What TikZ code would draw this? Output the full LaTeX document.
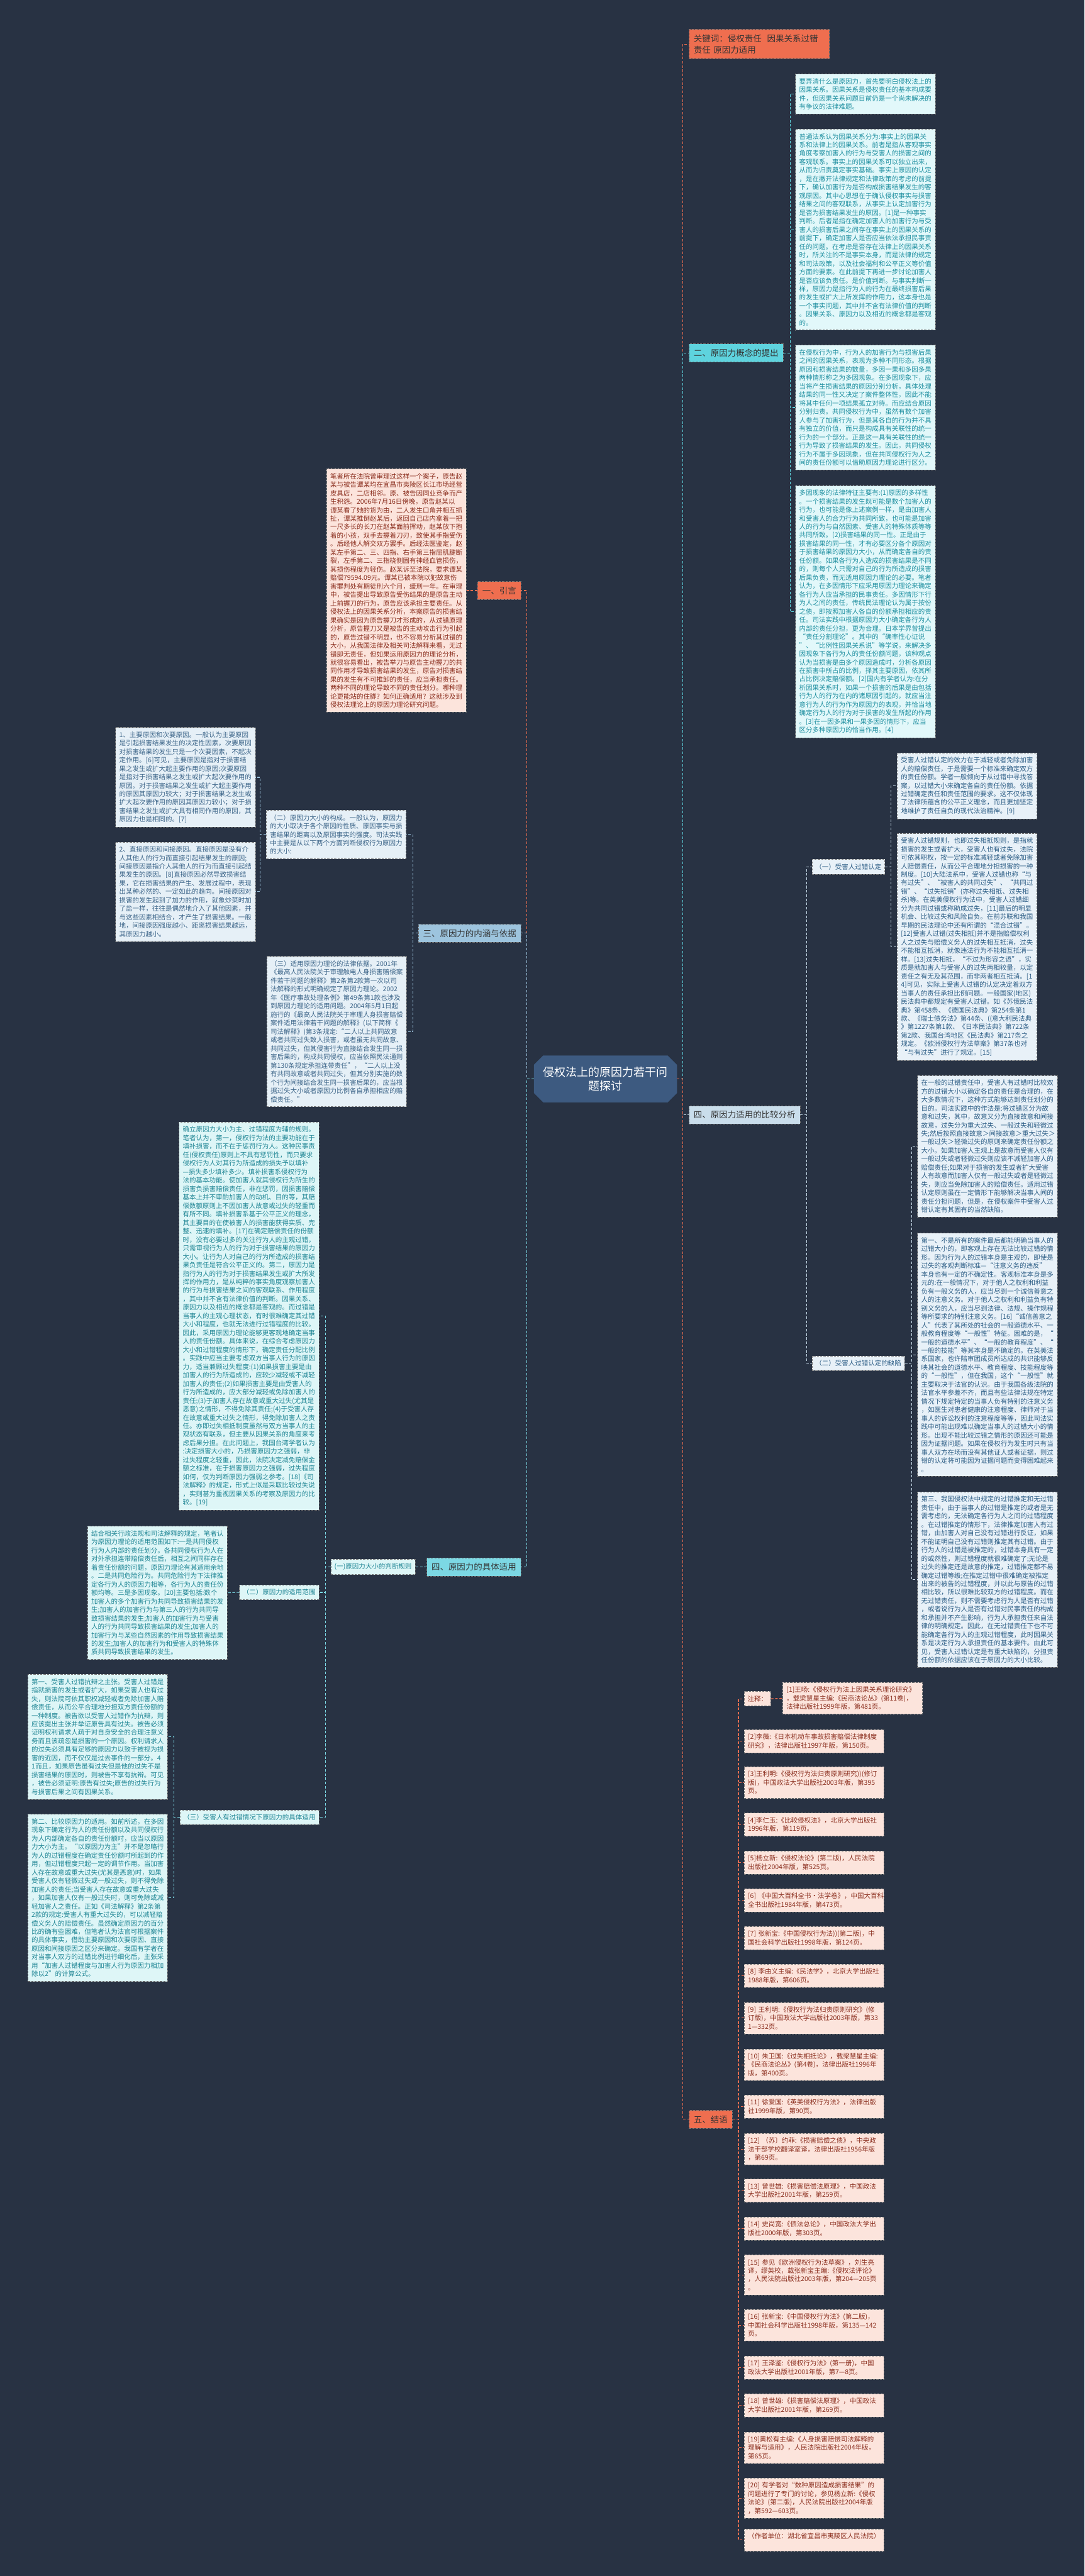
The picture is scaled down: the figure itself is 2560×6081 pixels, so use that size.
\documentclass[tikz,border=0pt]{standalone}
\usepackage{fontspec}
\setmainfont{Noto Sans CJK SC}
\usetikzlibrary{shapes.misc}

\definecolor{bgnavy}{HTML}{283243}
\definecolor{corange}{HTML}{EF6E4F}
\definecolor{cteal}{HTML}{5ED3DE}
\definecolor{csteel}{HTML}{9DC4DE}
\definecolor{cpale}{HTML}{C9DDEB}
\definecolor{ccyan}{HTML}{7CD8E4}
\definecolor{croot}{HTML}{3D5A80}

\begin{document}
\begin{tikzpicture}[x=1pt,y=-1pt]
	\tikzstyle{myline}=[line width=1.6pt,dash pattern=on 6pt off 4pt]
	\tikzstyle{mymain}=[font=\fontsize{20}{27}\selectfont,inner xsep=11pt,inner ysep=12pt,draw=black!55,dash pattern=on 5pt off 3pt,line width=0.9pt]
	\tikzstyle{mysub}=[font=\fontsize{15.6}{20}\selectfont,inner xsep=8pt,inner ysep=10pt,draw=black!55,dash pattern=on 5pt off 3pt,line width=0.9pt]
	\tikzstyle{mybox}=[font=\fontsize{15.6}{20}\selectfont,text width=312pt,align=left,inner xsep=9pt,inner ysep=10pt,draw=black!55,dash pattern=on 5pt off 3pt,line width=0.9pt]
	\tikzstyle{myred}=[fill={rgb,255:red,252;green,228;blue,220},text={rgb,255:red,139;green,46;blue,30}]
	\tikzstyle{myteal}=[fill={rgb,255:red,226;green,248;blue,250},text={rgb,255:red,30;green,143;blue,160}]
	\tikzstyle{mypale}=[fill={rgb,255:red,232;green,241;blue,248},text={rgb,255:red,45;green,94;blue,134}]
	\tikzstyle{mysteel}=[fill={rgb,255:red,230;green,240;blue,247},text={rgb,255:red,59;green,100;blue,136}]
	\tikzstyle{mycyan}=[fill={rgb,255:red,222;green,246;blue,247},text={rgb,255:red,30;green,133;blue,148}]

	\fill[bgnavy] (0,0) rectangle (2560,6081);
	\useasboundingbox (0,0) rectangle (2560,6081);

	% root and main branches
	\node[chamfered rectangle,chamfered rectangle xsep=10pt,chamfered rectangle ysep=12pt,fill=croot,text=white,font=\fontsize{26.7}{34}\selectfont,align=center,inner xsep=12pt,inner ysep=14pt] (root) at (1429,2547) {侵权法上的原因力若干问\\题探讨};

	\node[mymain,fill=corange,text=black!80,text width=309pt,align=left,anchor=west] (kw) at (1626,104) {关键词：侵权责任\ \ 因果关系过错\\责任 原因力适用};
	\node[mymain,fill=cteal,text=black!80,anchor=west] (sec2) at (1626,833) {二、原因力概念的提出};
	\node[mymain,fill=cpale,text=black!80,anchor=west] (sec4r) at (1626,2632) {四、原因力适用的比较分析};
	\node[mymain,fill=corange,text=black!80,anchor=west] (sec5) at (1626,5003) {五、结语};

	\node[mymain,fill=corange,text=black!80,anchor=east] (sec1) at (1230,1394) {一、引言};
	\node[mymain,fill=csteel,text=black!80,anchor=east] (sec3) at (1230,2203) {三、原因力的内涵与依据};
	\node[mymain,fill=ccyan,text=black!80,anchor=east] (sec4l) at (1230,3699) {四、原因力的具体适用};

	\draw[myline,corange] (root.east) -- ++(13,0) |- (kw.west);
	\draw[myline,cteal] (root.east) -- ++(13,0) |- (sec2.west);
	\draw[myline,cpale] (root.east) -- ++(13,0) |- (sec4r.west);
	\draw[myline,corange] (root.east) -- ++(13,0) |- (sec5.west);
	\draw[myline,corange] (root.west) -- ++(-16,0) |- (sec1.east);
	\draw[myline,csteel] (root.west) -- ++(-16,0) |- (sec3.east);
	\draw[myline,ccyan] (root.west) -- ++(-16,0) |- (sec4l.east);

	% 二
	\node[mybox,myteal,anchor=west] (c2a) at (1877,222) {要弄清什么是原因力，首先要明白侵权法上的\\因果关系。因果关系是侵权责任的基本构成要\\件，但因果关系问题目前仍是一个尚未解决的\\有争议的法律难题。};
	\node[mybox,myteal,anchor=west] (c2b) at (1877,542) {普通法系认为因果关系分为:事实上的因果关\\系和法律上的因果关系。前者是指从客观事实\\角度考察加害人的行为与受害人的损害之间的\\客观联系。事实上的因果关系可以独立出来，\\从而为归责奠定事实基础。事实上原因的认定\\，是在撇开法律规定和法律政策的考虑的前提\\下，确认加害行为是否构成损害结果发生的客\\观原因。其中心思想在于确认侵权事实与损害\\结果之间的客观联系，从事实上认定加害行为\\是否为损害结果发生的原因。[1]是一种事实\\判断。后者是指在确定加害人的加害行为与受\\害人的损害后果之间存在事实上的因果关系的\\前提下，确定加害人是否应当依法承担民事责\\任的问题。在考虑是否存在法律上的因果关系\\时，所关注的不是事实本身，而是法律的规定\\和司法政策，以及社会福利和公平正义等价值\\方面的要素。在此前提下再进一步讨论加害人\\是否应该负责任。是价值判断。与事实判断一\\样，原因力是指行为人的行为在最终损害后果\\的发生或扩大上所发挥的作用力，这本身也是\\一个事实问题，其中并不含有法律价值的判断\\。因果关系、原因力以及相近的概念都是客观\\的。};
	\node[mybox,myteal,anchor=west] (c2c) at (1877,962) {在侵权行为中，行为人的加害行为与损害后果\\之间的因果关系，表现为多种不同形态。根据\\原因和损害结果的数量，多因一果和多因多果\\两种情形称之为多因现象。在多因现象下，应\\当将产生损害结果的原因分别分析，具体处理\\结果的同一性又决定了案件整体性，因此不能\\将其中任何一项结果孤立对待。而应结合原因\\分别归责。共同侵权行为中，虽然有数个加害\\人参与了加害行为，但是其各自的行为并不具\\有独立的价值，而只是构成具有关联性的统一\\行为的一个部分。正是这一具有关联性的统一\\行为导致了损害结果的发生。因此，共同侵权\\行为不属于多因现象，但在共同侵权行为人之\\间的责任份额可以借助原因力理论进行区分。};
	\node[mybox,myteal,anchor=west] (c2d) at (1877,1444) {多因现象的法律特征主要有:(1)原因的多样性\\。一个损害结果的发生既可能是数个加害人的\\行为，也可能是像上述案例一样，是由加害人\\和受害人的合力行为共同所致，也可能是加害\\人的行为与自然因素、受害人的特殊体质等等\\共同所致。(2)损害结果的同一性。正是由于\\损害结果的同一性，才有必要区分各个原因对\\于损害结果的原因力大小，从而确定各自的责\\任份额。如果各行为人造成的损害结果是不同\\的，则每个人只需对自己的行为所造成的损害\\后果负责，而无适用原因力理论的必要。笔者\\认为，在多因情形下应采用原因力理论来确定\\各行为人应当承担的民事责任。多因情形下行\\为人之间的责任，传统民法理论认为属于按份\\之债，即按照加害人各自的份额承担相应的责\\任。司法实践中根据原因力大小确定各行为人\\内部的责任分担，更为合理。日本学界曾提出\\“责任分割理论”。其中的“确率性心证说\\”、“比例性因果关系说”等学说，来解决多\\因现象下各行为人的责任份额问题，该种观点\\认为当损害是由多个原因造成时，分析各原因\\在损害中所占的比例，择其主要原因，依其所\\占比例决定赔偿额。[2]国内有学者认为:在分\\析因果关系时，如果一个损害的后果是由包括\\行为人的行为在内的诸原因引起的，就应当注\\意行为人的行为作为原因力的表现，并恰当地\\确定行为人的行为对于损害的发生所起的作用\\。[3]在一因多果和一果多因的情形下，应当\\区分多种原因力的恰当作用。[4]};
	\foreach \c in {c2a,c2b,c2c,c2d} {\draw[myline,cteal] (sec2.east) -- ++(16,0) |- (\c.west);}

	% 四 (right)
	\node[mysub,mypale,anchor=west] (r41) at (1916,2046) {（一）受害人过错认定};
	\node[mysub,mypale,anchor=west] (r42) at (1916,3218) {（二）受害人过错认定的缺陷};
	\foreach \c in {r41,r42} {\draw[myline,cpale] (sec4r.east) -- ++(15,0) |- (\c.west);}

	\node[mybox,mypale,anchor=west] (r41a) at (2117,1855) {受害人过错认定的效力在于减轻或者免除加害\\人的赔偿责任，于是需要一个标准来确定双方\\的责任份额。学者一般倾向于从过错中寻找答\\案，以过错大小来确定各自的责任份额。依据\\过错确定责任和责任范围的要求。这不仅体现\\了法律所蕴含的公平正义理念，而且更加坚定\\地维护了责任自负的现代法治精神。[9]};
	\node[mybox,mypale,anchor=west] (r41b) at (2117,2235) {受害人过错规则，也即过失相抵规则，是指就\\损害的发生或者扩大，受害人也有过失，法院\\可依其职权，按一定的标准减轻或者免除加害\\人赔偿责任，从而公平合理地分担损害的一种\\制度。[10]大陆法系中，受害人过错也称“与\\有过失”、“被害人的共同过失”、“共同过\\错”、“过失抵销”(亦称过失相抵、过失相\\杀)等。在英美侵权行为法中，受害人过错细\\分为共同过错或称助成过失，[11]最后的明显\\机会、比较过失和风险自负。在前苏联和我国\\早期的民法理论中还有所谓的“混合过错”。\\{}[12]受害人过错(过失相抵)并不是指赔偿权利\\人之过失与赔偿义务人的过失相互抵消，过失\\不能相互抵消，就像违法行为不能相互抵消一\\样。[13]过失相抵，“不过为形容之语”，实\\质是就加害人与受害人的过失两相较量，以定\\责任之有无及其范围，而非两者相互抵消。[1\\4]可见，实际上受害人过错的认定决定着双方\\当事人的责任承担比例问题。一般国家(地区)\\民法典中都规定有受害人过错。如《苏俄民法\\典》第458条、《德国民法典》第254条第1\\款、《瑞士债务法》第44条、((意大利民法典\\》第1227条第1款、《日本民法典》第722条\\第2款、我国台湾地区《民法典》第217条之\\规定。《欧洲侵权行为法草案》第37条也对\\“与有过失”进行了规定。[15]};
	\foreach \c in {r41a,r41b} {\draw[myline,cpale] (r41.east) -- ++(14,0) |- (\c.west);}

	\node[mybox,mypale,anchor=west] (r42a) at (2165,2706) {在一般的过错责任中，受害人有过错时比较双\\方的过错大小以确定各自的责任是合理的，在\\大多数情况下，这种方式能够达到责任划分的\\目的。司法实践中的作法是:将过错区分为故\\意和过失，其中，故意又分为直接故意和间接\\故意，过失分为重大过失、一般过失和轻微过\\失;然后按照直接故意＞间接故意＞重大过失＞\\一般过失＞轻微过失的原则来确定责任份额之\\大小。如果加害人主观上是故意而受害人仅有\\一般过失或者轻微过失则应该不减轻加害人的\\赔偿责任;如果对于损害的发生或者扩大受害\\人有故意而加害人仅有一般过失或者是轻微过\\失，则应当免除加害人的赔偿责任。适用过错\\认定原则虽在一定情形下能够解决当事人间的\\责任分担问题，但是，在侵权案件中受害人过\\错认定有其固有的当然缺陷。};
	\node[mybox,mypale,anchor=west] (r42b) at (2165,3198) {第一、不是所有的案件最后都能明确当事人的\\过错大小的，即客观上存在无法比较过错的情\\形。因为行为人的过错本身是主观的，即使是\\过失的客观判断标准—“注意义务的违反”\\本身也有一定的不确定性。客观标准本身是多\\元的:在一般情况下，对于他人之权利和利益\\负有一般义务的人，应当尽到一个诚信善意之\\人的注意义务。对于他人之权利和利益负有特\\别义务的人，应当尽到法律、法规、操作规程\\等所要求的特别注意义务。[16]“诚信善意之\\人”代表了其所处的社会的一般道德水平、一\\般教育程度等“一般性”特征。困难的是，“\\一般的道德水平”、“一般的教育程度”、“\\一般的技能”等其本身是不确定的。在英美法\\系国家，也许陪审团成员所达成的共识能够反\\映其社会的道德水平、教育程度、技能程度等\\的“一般性”，但在我国，这个“一般性”就\\主要取决于法官的认识。由于我国各级法院的\\法官水平参差不齐，而且有些法律法规在特定\\情况下规定特定的当事人负有特别的注意义务\\，如医生对患者健康的注意程度、律师对于当\\事人的诉讼权利的注意程度等等，因此司法实\\践中可能出现难以确定当事人的过错大小的情\\形。出现不能比较过错之情形的原因还可能是\\因为证据问题。如果在侵权行为发生时只有当\\事人双方在场而没有其他证人或者证据，则过\\错的认定将可能因为证据问题而变得困难起来\\。};
	\node[mybox,mypale,anchor=west] (r42c) at (2165,3729) {第三、我国侵权法中规定的过错推定和无过错\\责任中，由于当事人的过错是推定的或者是无\\需考虑的，无法确定各行为人之间的过错程度\\。在过错推定的情形下，法律推定加害人有过\\错，由加害人对自己没有过错进行反证，如果\\不能证明自己没有过错则推定其有过错。由于\\行为人的过错是被推定的，过错本身具有一定\\的或然性，则过错程度就很难确定了;无论是\\过失的推定还是故意的推定，过错推定都不易\\确定过错等级;在推定过错中很难确定被推定\\出来的被告的过错程度，并以此与原告的过错\\相比较，所以很难比较双方的过错程度。而在\\无过错责任，则不需要考虑行为人是否有过错\\，或者说行为人是否有过错对民事责任的构成\\和承担并不产生影响，行为人承担责任来自法\\律的明确规定。因此，在无过错责任下也不可\\能确定各行为人的主观过错程度，此时因果关\\系是决定行为人承担责任的基本要件。由此可\\见，受害人过错认定是有重大缺陷的，分担责\\任份额的依据应该在于原因力的大小比较。};
	\foreach \c in {r42a,r42b,r42c} {\draw[myline,cpale] (r42.east) -- ++(16,0) |- (\c.west);}

	% 五 and notes
	\node[mysub,myred,anchor=west] (zhu) at (1756,4010) {注释：};
	\node[mybox,myred,anchor=west] (r1) at (1847,4009) {[1]王旸:《侵权行为法上因果关系理论研究》\\，载梁慧星主编:《民商法论丛》(第11卷)，\\法律出版社1999年版，第481页。};
	\draw[myline,corange] (zhu.east) -- (r1.west);
	\foreach \nm/\y/\txt in {
		r2/4110/{[2]李薇:《日本机动车事故损害赔偿法律制度\\研究》，法律出版社1997年版，第150页。},
		r3/4208/{[3]王利明:《侵权行为法归责原则研究))(修订\\版)，中国政法大学出版社2003年版，第395\\页。},
		r4/4307/{[4]李仁玉:《比较侵权法》，北京大学出版社\\1996年版，第119页。},
		r5/4397/{[5]杨立新:《侵权法论》(第二版)，人民法院\\出版社2004年版，第525页。},
		r6/4486/{[6]\ 《中国大百科全书·法学卷》，中国大百科\\全书出版社1984年版，第473页。},
		r7/4575/{[7]\ 张新宝:《中国侵权行为法))(第二版)，中\\国社会科学出版社1998年版，第124页。},
		r8/4664/{[8]\ 李由义主编:《民法学》，北京大学出版社\\1988年版，第606页。},
		r9/4764/{[9]\ 王利明:《侵权行为法归责原则研究》(修\\订版)，中国政法大学出版社2003年版，第33\\1—332页。},
		r10/4874/{[10]\ 朱卫国:《过失相抵论》，载梁慧星主编:\\《民商法论丛》(第4卷)，法律出版社1996年\\版，第400页。},
		r11/4973/{[11]\ 徐爱国:《英美侵权行为法》，法律出版\\社1999年版，第90页。},
		r12/5073/{[12]\ （苏〕约菲:《损害赔偿之债》，中央政\\法干部学校翻译室译，法律出版社1956年版\\，第69页。},
		r13/5171/{[13]\ 曾世雄:《损害赔偿法原理》，中国政法\\大学出版社2001年版，第259页。},
		r14/5261/{[14]\ 史尚宽:《债法总论》，中国政法大学出\\版社2000年版，第303页。},
		r15/5370/{[15]\ 参见《欧洲侵权行为法草案》，刘生亮\\译，缪英校，载张新宝主编:《侵权法评论》\\，人民法院出版社2003年版，第204—205页\\。},
		r16/5489/{[16]\ 张新宝:《中国侵权行为法》(第二版)，\\中国社会科学出版社1998年版，第135—142\\页。},
		r17/5589/{[17]\ 王泽鉴:《侵权行为法》(第一册)，中国\\政法大学出版社2001年版，第7—8页。},
		r18/5678/{[18]\ 曾世雄:《损害赔偿法原理》，中国政法\\大学出版社2001年版，第269页。},
		r19/5778/{[19]黄松有主编:《人身损害赔偿司法解释的\\理解与适用》，人民法院出版社2004年版，\\第65页。},
		r20/5897/{[20]\ 有学者对“数种原因造成损害结果”的\\问题进行了专门的讨论，参见杨立新:《侵权\\法论》(第二版)，人民法院出版社2004年版\\，第592—603页。},
		r21/5996/{\hfill（作者单位：湖北省宜昌市夷陵区人民法院）\hfill\null}}
		{\node[mybox,myred,anchor=west] (\nm) at (1756,\y) {\txt};}
	\foreach \c in {zhu,r2,r3,r4,r5,r6,r7,r8,r9,r10,r11,r12,r13,r14,r15,r16,r17,r18,r19,r20,r21} {\draw[myline,corange] (sec5.east) -- ++(14,0) |- (\c.west);}

	% 一
	\node[mybox,myred,anchor=east] (intro) at (1101,1394) {笔者所在法院曾审理过这样一个案子，原告赵\\某与被告谭某均在宜昌市夷陵区长江市场经营\\皮具店，二店相邻。原、被告因同业竞争而产\\生积怨。2006年7月16日傍晚，原告赵某以\\谭某看了她的货为由，二人发生口角并相互抓\\扯，谭某推倒赵某后，返回自己店内拿着一把\\一尺多长的长刀在赵某面前挥动，赵某放下抱\\着的小孩，双手去握着刀刃，致使其手指受伤\\。后经他人解交双方罢手。后经法医鉴定，赵\\某左手第二、三、四指、右手第三指屈肌腱断\\裂，左手第二、三指桡侧固有神经血管损伤，\\其损伤程度为轻伤。赵某诉至法院，要求谭某\\赔偿79594.09元。谭某已被本院以犯故意伤\\害罪判处有期徒刑六个月，缓刑一年。在审理\\中，被告提出导致原告受伤结果的是原告主动\\上前握刀的行为，原告应该承担主要责任。从\\侵权法上的因果关系分析，本案原告的损害结\\果确实是因为原告握刀才形成的，从过错原理\\分析，原告握刀又是被告的主动攻击行为引起\\的，原告过错不明显，也不容易分析其过错的\\大小，从我国法律及相关司法解释来看，无过\\错即无责任，但如果运用原因力的理论分析，\\就很容易看出，被告举刀与原告主动握刀的共\\同作用才导致损害结果的发生，原告对损害结\\果的发生有不可推卸的责任，应当承担责任。\\两种不同的理论导致不同的责任划分。哪种理\\论更能站的住脚？如何正确适用？这就涉及到\\侵权法理论上的原因力理论研究问题。};
	\draw[myline,corange] (sec1.west) -- (intro.east);

	% 三
	\node[mybox,mysteel,anchor=east] (s3b) at (959,1970) {（二）原因力大小的构成。一般认为，原因力\\的大小取决于各个原因的性质、原因事实与损\\害结果的距离以及原因事实的强度。司法实践\\中主要是从以下两个方面判断侵权行为原因力\\的大小:};
	\node[mybox,mysteel,anchor=east] (s3c) at (960,2435) {（三）适用原因力理论的法律依据。2001年\\《最高人民法院关于审理触电人身损害赔偿案\\件若干问题的解释》第2条第2款第一次以司\\法解释的形式明确规定了原因力理论。2002\\年《医疗事故处理条例》第49条第1款也涉及\\到原因力理论的适用问题。2004年5月1日起\\施行的《最高人民法院关于审理人身损害赔偿\\案件适用法律若干问题的解释》(以下简称《\\司法解释》)第3条规定:“二人以上共同故意\\或者共同过失致人损害，或者虽无共同故意、\\共同过失，但其侵害行为直接结合发生同一损\\害后果的，构成共同侵权，应当依照民法通则\\第130条规定承担连带责任”，“二人以上没\\有共同故意或者共同过失，但其分别实施的数\\个行为间接结合发生同一损害后果的，应当根\\据过失大小或者原因力比例各自承担相应的赔\\偿责任。”};
	\foreach \c in {s3b,s3c} {\draw[myline,csteel] (sec3.west) -- ++(-13,0) |- (\c.east);}

	\node[mybox,mysteel,anchor=east] (s3b1) at (603,1835) {1、主要原因和次要原因。一般认为主要原因\\是引起损害结果发生的决定性因素，次要原因\\对损害结果的发生只是一个次要因素，不起决\\定作用。[6]可见，主要原因是指对于损害结\\果之发生或扩大起主要作用的原因;次要原因\\是指对于损害结果之发生或扩大起次要作用的\\原因。对于损害结果之发生或扩大起主要作用\\的原因其原因力较大；对于损害结果之发生或\\扩大起次要作用的原因其原因力较小；对于损\\害结果之发生或扩大具有相同作用的原因，其\\原因力也是相同的。[7]};
	\node[mybox,mysteel,anchor=east] (s3b2) at (603,2105) {2、直接原因和间接原因。直接原因是没有介\\人其他人的行为而直接引起结果发生的原因;\\间接原因是指介人其他人的行为而直接引起结\\果发生的原因。[8]直接原因必然导致损害结\\果，它在损害结果的产生、发展过程中，表现\\出某种必然的、一定如此的趋向。间接原因对\\损害的发生起到了加力的作用，就象炒菜时加\\了盐一样，往往是偶然地介入了其他因素，并\\与这些因素相结合，才产生了损害结果。一般\\地，间接原因强度越小、距离损害结果越远，\\其原因力越小。};
	\foreach \c in {s3b1,s3b2} {\draw[myline,csteel] (s3b.west) -- ++(-14,0) |- (\c.east);}

	% 四 (left)
	\node[mysub,mycyan,anchor=east] (l41) at (980,3699) {(一)原因力大小的判断规则};
	\draw[myline,ccyan] (sec4l.west) -- (l41.east);

	\node[mybox,mycyan,anchor=east] (l41a) at (753,3107) {确立原因力大小为主、过错程度为辅的规则。\\笔者认为，第一，侵权行为法的主要功能在于\\填补损害，而不在于惩罚行为人。这种民事责\\任(侵权责任)原则上不具有惩罚性，而只要求\\侵权行为人对其行为所造成的损失予以填补\\—损失多少填补多少。填补损害系侵权行为\\法的基本功能。使加害人就其侵权行为所生的\\损害负损害赔偿责任，非在惩罚，因损害赔偿\\基本上并不审酌加害人的动机、目的等，其赔\\偿数额原则上不因加害人故意或过失的轻重而\\有所不同。填补损害系基于公平正义的理念，\\其主要目的在使被害人的损害能获得实质、完\\整、迅速的填补。[17]在确定赔偿责任的份额\\时，没有必要过多的关注行为人的主观过错，\\只需审视行为人的行为对于损害结果的原因力\\大小。让行为人对自己的行为所造成的损害结\\果负责任是符合公平正义的。第二，原因力是\\指行为人的行为对于损害结果发生或扩大所发\\挥的作用力，是从纯粹的事实角度观察加害人\\的行为与损害结果之间的客观联系、作用程度\\，其中并不含有法律价值的判断。因果关系、\\原因力以及相近的概念都是客观的。而过错是\\当事人的主观心理状态，有时很难确定其过错\\大小和程度，也就无法进行过错程度的比较。\\因此，采用原因力理论能够更客观地确定当事\\人的责任份额。具体来说，在综合考虑原因力\\大小和过错程度的情形下，确定责任分配比例\\。实践中应当主要考虑双方当事人行为的原因\\力，适当兼顾过失程度:(1)如果损害主要是由\\加害人的行为所造成的，应较少减轻或不减轻\\加害人的责任;(2)如果损害主要是由受害人的\\行为所造成的，应大部分减轻或免除加害人的\\责任;(3)于加害人存在故意或重大过失(尤其是\\恶意)之情形，不得免除其责任;(4)于受害人存\\在故意或重大过失之情形，得免除加害人之责\\任。亦即过失相抵制度虽然与双方当事人的主\\观状态有联系，但主要从因果关系的角度来考\\虑后果分担。在此问题上，我国台湾学者认为\\:决定损害大小的，乃损害原因力之强弱，非\\过失程度之轻重，因此，法院决定减免赔偿金\\额之标准，在于损害原因力之强弱，过失程度\\如何，仅为判断原因力强弱之参考。[18]《司\\法解释》的规定，形式上似是采取比较过失说\\，实则甚为重视因果关系的考察及原因力的比\\较。[19]};
	\node[mysub,mycyan,anchor=east] (l42) at (753,3759) {（二）原因力的适用范围};
	\node[mysub,mycyan,anchor=east] (l43) at (753,4290) {（三）受害人有过错情况下原因力的具体适用};
	\foreach \c in {l41a,l42,l43} {\draw[myline,ccyan] (l41.west) -- ++(-13,0) |- (\c.east);}

	\node[mybox,mycyan,anchor=east] (l42a) at (537,3760) {结合相关行政法规和司法解释的规定，笔者认\\为原因力理论的适用范围如下:一是共同侵权\\行为人内部的责任划分。各共同侵权行为人在\\对外承担连带赔偿责任后，相互之间同样存在\\着责任份额的问题，原因力理论有其适用余地\\。二是共同危险行为。共同危险行为下法律推\\定各行为人的原因力相等，各行为人的责任份\\额均等。三是多因现象。[20]主要包括:数个\\加害人的多个加害行为共同导致损害结果的发\\生;加害人的加害行为与第三人的行为共同导\\致损害结果的发生;加害人的加害行为与受害\\人的行为共同导致损害结果的发生;加害人的\\加害行为与某些自然因素的作用导致损害结果\\的发生;加害人的加害行为和受害人的特殊体\\质共同导致损害结果的发生。};
	\draw[myline,ccyan] (l42.west) -- (l42a.east);

	\node[mybox,mycyan,anchor=east] (l43a) at (396,4100) {第一、受害人过错抗辩之主张。受害人过错是\\指就损害的发生或者扩大，如果受害人也有过\\失，则法院可依其职权减轻或者免除加害人赔\\偿责任，从而公平合理地分担双方责任份额的\\一种制度。被告欲以受害人过错作为抗辩，则\\应该提出主张并举证原告具有过失。被告必须\\证明权利请求人疏于对自身安全的合理注意义\\务而且该疏忽是损害的一个原因。权利请求人\\的过失必须具有足够的原因力以致于被视为损\\害的近因，而不仅仅是过去事件的一部分。4\\1而且，如果原告虽有过失但是他的过失不是\\损害结果的原因时，则被告不享有抗辩。可见\\，被告必须证明:原告有过失;原告的过失行为\\与损害后果之间有因果关系。};
	\node[mybox,mycyan,anchor=east] (l43b) at (396,4480) {第二、比较原因力的适用。如前所述，在多因\\现象下确定行为人的责任份额以及共同侵权行\\为人内部确定各自的责任份额时，应当以原因\\力大小为主。“以原因力为主”并不是忽略行\\为人的过错程度在确定责任份额时所起到的作\\用，但过错程度只起一定的调节作用。当加害\\人存在故意或重大过失(尤其是恶意)时，如果\\受害人仅有轻微过失或一般过失，则不得免除\\加害人的责任;当受害人存在故意或重大过失\\，如果加害人仅有一般过失时，则可免除或减\\轻加害人之责任。正如《司法解释》第2条第\\2款的规定:受害人有重大过失的，可以减轻赔\\偿义务人的赔偿责任。虽然确定原因力的百分\\比的确有些困难，但笔者认为法官可根据案件\\的具体事实，借助主要原因和次要原因、直接\\原因和间接原因之区分来确定。我国有学者在\\对当事人双方的过错比例进行细化后，主张采\\用“加害人过错程度与加害人行为原因力相加\\除以2”的计算公式。};
	\foreach \c in {l43a,l43b} {\draw[myline,ccyan] (l43.west) -- ++(-14,0) |- (\c.east);}

\end{tikzpicture}
\end{document}
